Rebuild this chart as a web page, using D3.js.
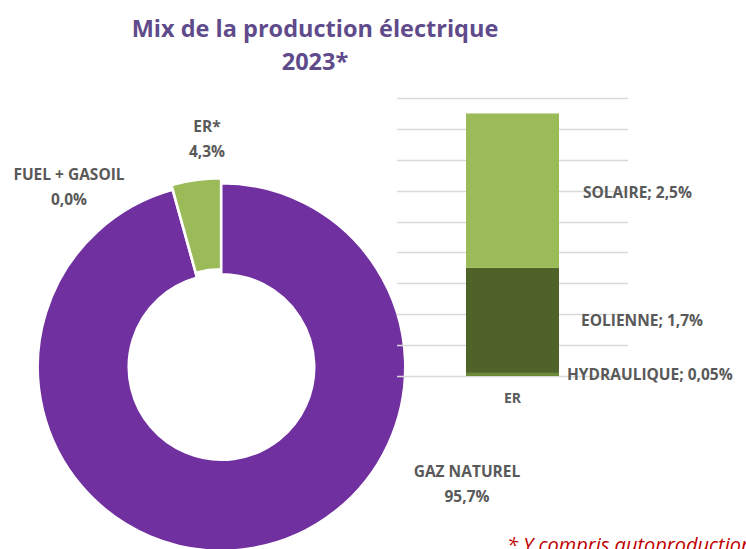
<!DOCTYPE html>
<html>
<head>
<meta charset="utf-8">
<script src="https://cdn.jsdelivr.net/npm/d3@7"></script>
<style>
  html, body { margin: 0; padding: 0; background: #ffffff; }
  svg { display: block; font-family: "Open Sans", Lato, "DejaVu Sans", sans-serif; }
</style>
</head>
<body>
<svg id="chart" width="746" height="549"></svg>
<script>
// Production mix (donut)
const mixCategories = ["GAZ NATUREL", "FUEL + GASOIL", "ER*"];
const mixValues = [95.7, 0.0, 4.3];
const mixColors = ["#7030a0", "#7030a0", "#9bbb59"];

// Renewable breakdown (stacked column)
const erCategory = ["ER"];
const erSeries = ["HYDRAULIQUE", "EOLIENNE", "SOLAIRE"];
const erValues = [0.05, 1.7, 2.5];
const erColors = ["#6b8a35", "#4f6228", "#9bbb59"];
const erTicks = [0, 0.5, 1, 1.5, 2, 2.5, 3, 3.5, 4, 4.5];

const fmt = v => d3.format(".1f")(v).replace(".", ",") + "%";
const fmt2 = v => d3.format(".2f")(v).replace(".", ",") + "%";

const svg = d3.select("#chart");
const labelColor = "#595959";
const labelSize = 15.5;

// Title
const title = svg.append("text")
  .attr("text-anchor", "middle")
  .attr("font-size", 23.5).attr("font-weight", 700)
  .attr("fill", "#5f4b8b");
title.append("tspan").attr("x", 315).attr("y", 37).text("Mix de la production électrique");
title.append("tspan").attr("x", 315).attr("y", 70).text("2023*");

// Donut
const cx = 221.5, cy = 367, outerR = 183.5, innerR = 93;
const pie = d3.pie().sort(null).value(d => d.value);
const arcs = pie(mixCategories.map((c, i) => ({ cat: c, value: mixValues[i], color: mixColors[i] })));
const arc = d3.arc().innerRadius(innerR).outerRadius(outerR);
const explode = { "ER*": 5 };

const donut = svg.append("g").attr("transform", `translate(${cx},${cy})`);
donut.selectAll("path")
  .data(arcs)
  .join("path")
  .attr("d", arc)
  .attr("fill", d => d.data.color)
  .attr("stroke", "#ffffff")
  .attr("stroke-width", 2)
  .attr("transform", d => {
    const off = explode[d.data.cat] || 0;
    const a = (d.startAngle + d.endAngle) / 2;
    return `translate(${off * Math.sin(a)},${-off * Math.cos(a)})`;
  });

// Donut labels: placed relative to the donut centre
const labelOffsets = {
  "GAZ NATUREL": [245.5, 110],
  "FUEL + GASOIL": [-152.5, -187],
  "ER*": [-14.5, -235]
};
arcs.forEach(d => {
  const [dx, dy] = labelOffsets[d.data.cat];
  const t = donut.append("text")
    .attr("text-anchor", "middle")
    .attr("font-size", labelSize).attr("font-weight", 700)
    .attr("fill", labelColor);
  t.append("tspan").attr("x", dx).attr("y", dy).text(d.data.cat);
  t.append("tspan").attr("x", dx).attr("y", dy + 24.5).text(fmt(d.data.value));
});

// Stacked column of renewables
const x = d3.scaleBand().domain(erCategory).range([397, 628]).padding(0.426);
const y = d3.scaleLinear().domain([0, 4.5]).range([376, 98]);

const bar = svg.append("g");
bar.selectAll("line.grid")
  .data(erTicks)
  .join("line")
  .attr("class", "grid")
  .attr("x1", 397).attr("x2", 628)
  .attr("y1", d => Math.round(y(d)) + 0.5)
  .attr("y2", d => Math.round(y(d)) + 0.5)
  .attr("stroke", "#d9d9d9")
  .attr("stroke-width", 1.3);

const stack = d3.stack().keys(erSeries)([
  Object.fromEntries(erSeries.map((k, i) => [k, erValues[i]]))
]);

bar.selectAll("rect")
  .data(stack)
  .join("rect")
  .attr("x", x("ER"))
  .attr("width", x.bandwidth())
  .attr("y", d => y(d[0][1]))
  .attr("height", d => y(d[0][0]) - y(d[0][1]))
  .attr("fill", (d, i) => erColors[i]);

// Segment labels, to the right of the column
const segLabelDx = { "HYDRAULIQUE": 8, "EOLIENNE": 22, "SOLAIRE": 24 };
const segLabelDy = { "HYDRAULIQUE": 1, "EOLIENNE": 1, "SOLAIRE": 3 };
bar.selectAll("text.seg")
  .data(stack)
  .join("text")
  .attr("class", "seg")
  .attr("x", d => x("ER") + x.bandwidth() + segLabelDx[d.key])
  .attr("y", d => (y(d[0][0]) + y(d[0][1])) / 2 + segLabelDy[d.key])
  .attr("dominant-baseline", "middle")
  .attr("font-size", labelSize).attr("font-weight", 700)
  .attr("fill", labelColor)
  .text((d, i) => d.key + "; " + (erValues[i] < 0.1 ? fmt2(erValues[i]) : fmt(erValues[i])));

// Category axis label
bar.append("text")
  .attr("x", x("ER") + x.bandwidth() / 2)
  .attr("y", 403)
  .attr("text-anchor", "middle")
  .attr("font-size", 14).attr("font-weight", 700)
  .attr("fill", labelColor)
  .text(erCategory[0]);

// Footnote
svg.append("text")
  .attr("x", 507).attr("y", 552)
  .attr("font-size", 20).attr("font-style", "italic")
  .attr("fill", "#c00000")
  .text("* Y compris autoproduction");
</script>
</body>
</html>
